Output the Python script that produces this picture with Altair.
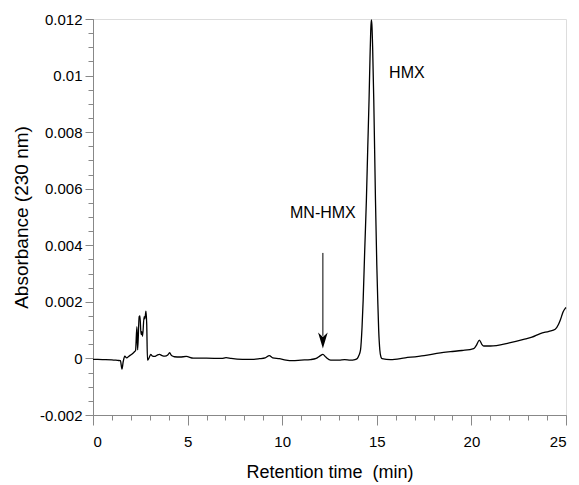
import altair as alt
import pandas as pd

# Chromatogram trace
time_min = [0.0, 0.5, 1.0, 1.3, 1.45, 1.53, 1.6, 1.68, 1.78, 1.9, 2.05, 2.18, 2.25,
            2.32, 2.36, 2.44, 2.48, 2.54, 2.58, 2.62, 2.70, 2.74, 2.80, 2.84, 2.88,
            2.95, 3.05, 3.15, 3.25, 3.4, 3.52, 3.65, 3.8, 3.95, 4.05, 4.15, 4.3, 4.6,
            4.93, 5.3, 6.0, 6.8, 7.03, 7.3, 7.9, 8.5, 8.8, 9.1, 9.32, 9.5, 9.85, 10.2,
            10.55, 11.0, 11.5, 11.8, 12.0, 12.15, 12.3, 12.56, 13.0, 13.3, 13.6, 13.85,
            13.97, 14.05, 14.14, 14.22, 14.28, 14.36, 14.45, 14.52, 14.59, 14.64, 14.68,
            14.71, 14.74, 14.78, 14.84, 14.93, 15.0, 15.05, 15.1, 15.16, 15.22, 15.28,
            15.72, 16.5, 17.5, 18.36, 18.9, 19.5, 20.12, 20.25, 20.42, 20.55, 20.65,
            21.0, 22.0, 22.76, 23.2, 23.64, 24.1, 24.43, 24.6, 24.7, 24.85, 24.96, 25.0]
absorbance = [-0.00003, -0.00004, -0.00005, -0.00007, -0.00008, -0.00038, -0.00010,
              0.00008, 0.00002, 0.00008, 0.00015, 0.00023, 0.00028,
              0.00112, 0.00030, 0.00148, 0.00150, 0.00085, 0.00095, 0.00078, 0.00148,
              0.00140, 0.00167, 0.00120, -0.00006,
              0.00000, 0.00014, 0.00008, 0.00007, 0.00012, 0.00014, 0.00010, 0.00008,
              0.00012, 0.00020, 0.00010, 0.00006, 0.00005,
              0.00007, 0.00001, 0.00001, 0.00000, 0.00003, 0.00000, -0.00003, -0.00003,
              -0.00001, 0.00002, 0.00010, 0.00002, -0.00001, -0.00006,
              -0.00008, -0.00006, -0.00004, 0.00000, 0.00009, 0.00014, 0.00005, -0.00006,
              -0.00006, -0.00004, -0.00006, -0.00004,
              0.00000, 0.00010, 0.00030, 0.00110, 0.00207, 0.00380, 0.00560, 0.00740,
              0.00914, 0.01060, 0.01160,
              0.01197, 0.01180, 0.01100, 0.00914, 0.00560, 0.00330, 0.00207, 0.00100,
              0.00030, 0.00005, -0.00001,
              -0.00004, 0.00002, 0.00010, 0.00020, 0.00024, 0.00028, 0.00035, 0.00045,
              0.00065, 0.00050, 0.00044,
              0.00044, 0.00055, 0.00067, 0.00075, 0.00088, 0.00096, 0.00103, 0.00120,
              0.00136, 0.00165, 0.00177, 0.00180]

# Annotations
label_text = ["MN-HMX", "HMX"]
label_time = [12.15, 15.65]
label_abs = [0.00514, 0.0101]

arrow_time = [12.15]
arrow_top = [0.00373]
arrow_bottom = [0.00080]
arrow_head = [0.00063]

x_major = [0, 5, 10, 15, 20, 25]
y_major = [-0.002, 0.0, 0.002, 0.004, 0.006, 0.008, 0.01, 0.012]
x_minor = list(range(0, 26))
y_minor = [round(-0.002 + i * 0.0005, 4) for i in range(29)]

df = pd.DataFrame({"t": time_min, "a": absorbance})
lab_mn = pd.DataFrame({"text": label_text[:1], "t": label_time[:1], "a": label_abs[:1]})
lab_h = pd.DataFrame({"text": label_text[1:], "t": label_time[1:], "a": label_abs[1:]})
arr = pd.DataFrame({"t": arrow_time, "y1": arrow_top, "y2": arrow_bottom, "h": arrow_head})

FONT = "Liberation Sans"
xs = alt.Scale(domain=[0, 25], nice=False, zero=False)
ys = alt.Scale(domain=[-0.002, 0.012], nice=False, zero=False)

major_x = alt.Axis(values=x_major, orient="bottom", title="Retention time\u00a0 (min)",
                   tickSize=10, labelPadding=9, titlePadding=14, labelFontSize=15,
                   titleFontSize=18, titleFontWeight="normal", grid=False, format="d")
major_y = alt.Axis(values=y_major, orient="left", title="Absorbance (230 nm)",
                   tickSize=8, labelPadding=3, titlePadding=8, labelFontSize=15,
                   titleFontSize=19, titleFontWeight="normal", grid=False,
                   labelExpr="'' + datum.value")
minor_x = alt.Axis(values=x_minor, orient="bottom", title=None, labels=False,
                   tickSize=5, domain=False, grid=False)
minor_y = alt.Axis(values=y_minor, orient="left", title=None, labels=False,
                   tickSize=5, domain=False, grid=False)

line = alt.Chart(df).mark_line(color="black", strokeWidth=1.3, interpolate="monotone").encode(
    x=alt.X("t:Q", scale=xs, axis=major_x),
    y=alt.Y("a:Q", scale=ys, axis=major_y),
)
minor = alt.Chart(df).mark_line(opacity=0).encode(
    x=alt.X("t:Q", scale=xs, axis=minor_x),
    y=alt.Y("a:Q", scale=ys, axis=minor_y),
)
rule = alt.Chart(arr).mark_rule(color="black", strokeWidth=1).encode(
    x=alt.X("t:Q", scale=xs, axis=None),
    y=alt.Y("y1:Q", scale=ys, axis=None),
    y2="y2:Q",
)
head = alt.Chart(arr).mark_point(
    shape="M0,1 L-0.6,-1 L0,-0.45 L0.6,-1 Z", filled=True, color="black", opacity=1, size=256
).encode(
    x=alt.X("t:Q", scale=xs, axis=None),
    y=alt.Y("h:Q", scale=ys, axis=None),
)
txt_c = alt.Chart(lab_mn).mark_text(
    font=FONT, fontSize=16, align="center", baseline="middle", color="black"
).encode(
    x=alt.X("t:Q", scale=xs, axis=None),
    y=alt.Y("a:Q", scale=ys, axis=None),
    text="text:N",
)
txt_l = alt.Chart(lab_h).mark_text(
    font=FONT, fontSize=16, align="left", baseline="middle", color="black"
).encode(
    x=alt.X("t:Q", scale=xs, axis=None),
    y=alt.Y("a:Q", scale=ys, axis=None),
    text="text:N",
)

chart = alt.layer(line, minor, rule, head, txt_c, txt_l).resolve_axis(
    x="independent", y="independent"
).properties(
    width=473, height=396,
    padding={"left": 85, "top": 11, "right": 4, "bottom": 67},
    autosize=alt.AutoSizeParams(type="none"),
).configure_view(stroke=None).configure_axis(
    domainColor="black", tickColor="black", labelColor="black", titleColor="black",
    labelFont=FONT, titleFont=FONT, titleFontWeight="normal", domainWidth=1, tickWidth=1,
).configure(background="white")

chart.save("out.html", embed_options={"renderer": "svg", "actions": False})
